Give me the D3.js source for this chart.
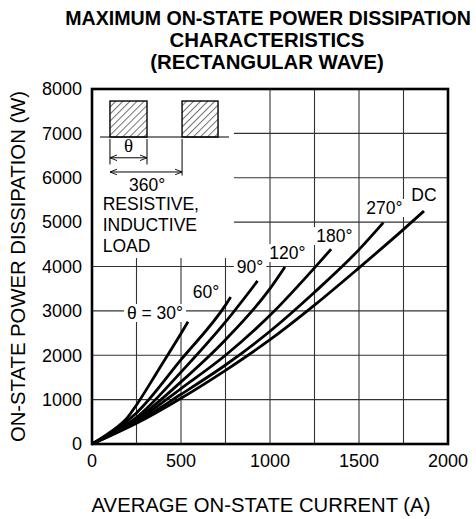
<!DOCTYPE html>
<html>
<head>
<meta charset="utf-8">
<script src="https://cdn.jsdelivr.net/npm/d3@7"></script>
<style>
  body { margin: 0; background: #fff; }
  text { font-family: "Liberation Sans", Arial, sans-serif; fill: #000; }
</style>
</head>
<body>
<div id="chart"></div>
<script>
// values (current in A, power in W)
var xTicks = [0, 500, 1000, 1500, 2000];
var yTicks = [0, 1000, 2000, 3000, 4000, 5000, 6000, 7000, 8000];
var xGrid = [250, 500, 750, 1000, 1250, 1500, 1750];
var yGrid = [1000, 2000, 3000, 4000, 5000, 6000, 7000];

var curve30  = [[0,0],[100,260],[200,600],[250,880],[375,1680],[500,2490],[540,2757]];
var curve60  = [[0,0],[100,230],[250,700],[500,1900],[750,3130],[779,3310]];
var curve90  = [[0,0],[100,215],[250,600],[500,1620],[750,2750],[930,3675]];
var curve120 = [[0,0],[100,205],[250,560],[500,1400],[750,2350],[1000,3500],[1084,3990]];
var curve180 = [[0,0],[100,195],[250,520],[500,1250],[750,2000],[1000,2900],[1250,3970],[1343,4390]];
var curve270 = [[0,0],[100,185],[250,490],[500,1120],[750,1780],[1000,2540],[1250,3420],[1500,4380],[1637,4990]];
var curveDC  = [[0,0],[100,180],[250,466],[500,1030],[750,1660],[1000,2350],[1250,3130],[1500,3970],[1750,4836],[1865,5250]];

var curves = [curve30, curve60, curve90, curve120, curve180, curve270, curveDC];

// curve labels: [text, current, power] at the text baseline centre
var curveLabels = [
  ["\u03b8 = 30\u00b0", 354, 2817],
  ["60\u00b0", 640, 3290],
  ["90\u00b0", 888, 3853],
  ["120\u00b0", 1098, 4168],
  ["180\u00b0", 1362, 4552],
  ["270\u00b0", 1643, 5183],
  ["DC", 1865, 5475]
];

var titleLines = ["MAXIMUM ON-STATE POWER DISSIPATION", "CHARACTERISTICS", "(RECTANGULAR WAVE)"];
var loadLines = ["RESISTIVE,", "INDUCTIVE", "LOAD"];

// pulse sketch in the upper left, in data units
var pulses = [[101, 309], [506, 708]];
var pulseTop = 7729, pulseBase = 6918;

var W = 476, H = 519;
var margin = {top: 89, right: 28, bottom: 75, left: 92};
var width = W - margin.left - margin.right,
    height = H - margin.top - margin.bottom;

var svg = d3.select("#chart").append("svg")
  .attr("width", W).attr("height", H);

var defs = svg.append("defs");
var pat = defs.append("pattern")
  .attr("id", "hatch")
  .attr("patternUnits", "userSpaceOnUse")
  .attr("width", 5).attr("height", 5)
  .attr("patternTransform", "rotate(45)");
pat.append("line")
  .attr("x1", 0).attr("y1", 0).attr("x2", 0).attr("y2", 5)
  .attr("stroke", "#000").attr("stroke-width", 1.1);

var arrow = function(id, orient) {
  defs.append("marker")
    .attr("id", id)
    .attr("viewBox", "0 0 10 10")
    .attr("refX", 10).attr("refY", 5)
    .attr("markerWidth", 7).attr("markerHeight", 7)
    .attr("markerUnits", "userSpaceOnUse")
    .attr("orient", orient)
    .append("path")
    .attr("d", "M0,1 L10,5 L0,9")
    .attr("fill", "none").attr("stroke", "#000").attr("stroke-width", 1.3);
};
arrow("arr", "auto");
arrow("arrStart", "auto-start-reverse");

// title (first line a bit smaller so it stays on the page)
svg.selectAll(".title")
  .data(titleLines)
  .enter().append("text")
  .attr("x", function(d, i) { return i == 0 ? 268 : 267; })
  .attr("y", function(d, i) { return 25 + i * 22; })
  .attr("text-anchor", "middle")
  .style("font-size", function(d, i) { return i == 0 ? "19.6px" : "20.4px"; })
  .style("font-weight", "bold")
  .text(function(d) { return d; });

var g = svg.append("g")
  .attr("transform", "translate(" + margin.left + "," + margin.top + ")");

var x = d3.scaleLinear().domain([0, 2000]).range([0, width]);
var y = d3.scaleLinear().domain([0, 8000]).range([height, 0]);

// grid
g.selectAll(".vgrid").data(xGrid).enter().append("line")
  .attr("x1", x).attr("x2", x)
  .attr("y1", 0).attr("y2", height)
  .attr("stroke", "#333").attr("stroke-width", 1.1);
g.selectAll(".hgrid").data(yGrid).enter().append("line")
  .attr("y1", y).attr("y2", y)
  .attr("x1", 0).attr("x2", width)
  .attr("stroke", "#333").attr("stroke-width", 1.1);

// blank box for the waveform sketch
g.append("rect")
  .attr("x", 1).attr("y", 1)
  .attr("width", x(792)).attr("height", y(4190) - 1)
  .attr("fill", "#fff");

// pulses
g.selectAll(".pulse").data(pulses).enter().append("rect")
  .attr("x", function(d) { return x(d[0]); })
  .attr("y", y(pulseTop))
  .attr("width", function(d) { return x(d[1]) - x(d[0]); })
  .attr("height", y(pulseBase) - y(pulseTop))
  .attr("fill", "url(#hatch)")
  .attr("stroke", "#000").attr("stroke-width", 1.4);

g.append("line")
  .attr("x1", x(45)).attr("x2", x(770))
  .attr("y1", y(pulseBase)).attr("y2", y(pulseBase))
  .attr("stroke", "#000").attr("stroke-width", 1.2);

// dimension lines
var dimX = [[pulses[0][0], 6300], [pulses[0][1], 6300], [pulses[1][0], 6050]];
g.selectAll(".dim").data(dimX).enter().append("line")
  .attr("x1", function(d) { return x(d[0]); })
  .attr("x2", function(d) { return x(d[0]); })
  .attr("y1", y(pulseBase) + 2)
  .attr("y2", function(d) { return y(d[1]); })
  .attr("stroke", "#000").attr("stroke-width", 1);

g.append("line")
  .attr("x1", x(pulses[0][0])).attr("x2", x(pulses[0][1]))
  .attr("y1", y(6450)).attr("y2", y(6450))
  .attr("stroke", "#000").attr("stroke-width", 1)
  .attr("marker-start", "url(#arrStart)").attr("marker-end", "url(#arr)");
g.append("line")
  .attr("x1", x(pulses[0][0])).attr("x2", x(pulses[1][0]))
  .attr("y1", y(6130)).attr("y2", y(6130))
  .attr("stroke", "#000").attr("stroke-width", 1)
  .attr("marker-start", "url(#arrStart)").attr("marker-end", "url(#arr)");

g.append("text")
  .attr("x", x((pulses[0][0] + pulses[0][1]) / 2))
  .attr("y", y(6585))
  .attr("text-anchor", "middle")
  .style("font-family", "'Liberation Serif', serif")
  .style("font-size", "19px")
  .text("\u03b8");
g.append("text")
  .attr("x", x(310))
  .attr("y", y(5710))
  .attr("text-anchor", "middle")
  .style("font-size", "17.5px")
  .text("360\u00b0");

g.selectAll(".load").data(loadLines).enter().append("text")
  .attr("x", x(60))
  .attr("y", function(d, i) { return y(5270 - i * 470); })
  .style("font-size", "17.5px")
  .text(function(d) { return d; });

// curve labels with white backing that breaks the grid
var lab = g.selectAll(".clab").data(curveLabels).enter().append("g");
lab.append("text")
  .attr("x", function(d) { return x(d[1]); })
  .attr("y", function(d) { return y(d[2]); })
  .attr("text-anchor", "middle")
  .style("font-size", "17.5px")
  .text(function(d) { return d[0]; });
lab.each(function() {
  var t = d3.select(this).select("text");
  var b = t.node().getBBox();
  d3.select(this).insert("rect", "text")
    .attr("x", b.x - 3).attr("y", b.y + 1)
    .attr("width", b.width + 6).attr("height", b.height - 2)
    .attr("fill", "#fff");
});

// curves
var line = d3.line()
  .x(function(d) { return x(d[0]); })
  .y(function(d) { return y(d[1]); })
  .curve(d3.curveMonotoneX);

g.selectAll(".curve").data(curves).enter().append("path")
  .attr("d", line)
  .attr("fill", "none")
  .attr("stroke", "#000")
  .attr("stroke-width", 2.8)
  .attr("stroke-linecap", "butt");

// frame
g.append("rect")
  .attr("width", width).attr("height", height)
  .attr("fill", "none").attr("stroke", "#000").attr("stroke-width", 2.6);

// tick labels
g.selectAll(".xt").data(xTicks).enter().append("text")
  .attr("x", x).attr("y", height + 23)
  .attr("text-anchor", "middle")
  .style("font-size", "18px")
  .text(function(d) { return d; });
g.selectAll(".yt").data(yTicks).enter().append("text")
  .attr("x", -10).attr("y", y)
  .attr("dy", "0.35em")
  .attr("text-anchor", "end")
  .style("font-size", "18px")
  .text(function(d) { return d; });

// axis titles
g.append("text")
  .attr("x", width / 2 - 9).attr("y", height + 68)
  .attr("text-anchor", "middle")
  .style("font-size", "20.3px")
  .text("AVERAGE ON-STATE CURRENT (A)");
g.append("text")
  .attr("transform", "translate(" + (25 - margin.left) + "," + (height / 2) + ") rotate(-90)")
  .attr("text-anchor", "middle")
  .style("font-size", "20.3px")
  .text("ON-STATE POWER DISSIPATION (W)");
</script>
</body>
</html>
